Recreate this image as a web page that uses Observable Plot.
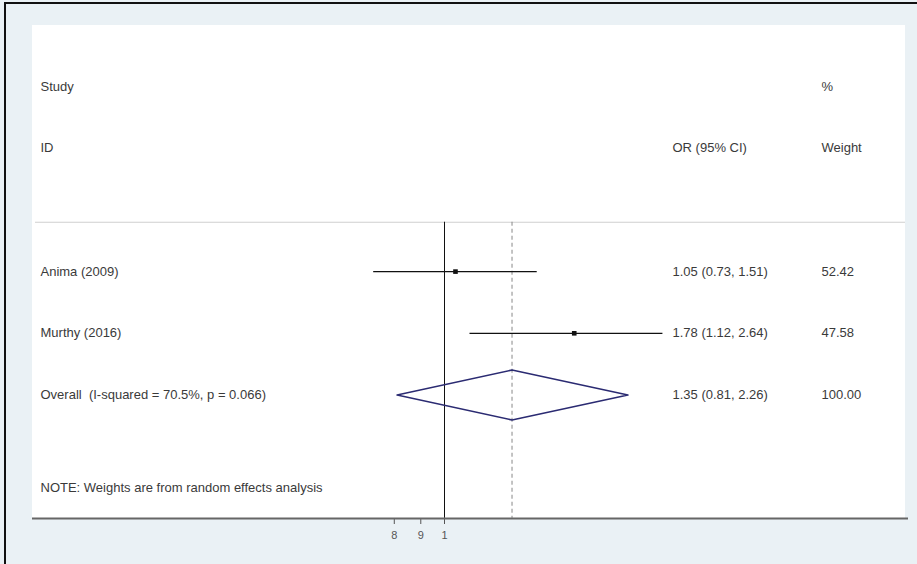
<!DOCTYPE html>
<html>
<head>
<meta charset="utf-8">
<script src="https://cdn.jsdelivr.net/npm/d3@7"></script>
<script src="https://cdn.jsdelivr.net/npm/@observablehq/plot@0.6"></script>
<style>
  html, body { margin: 0; padding: 0; background: #eaf1f5; }
  #wrap { position: relative; width: 917px; height: 564px; overflow: hidden; }
  #border { position: absolute; left: 4px; top: 2px; width: 930px; height: 600px; border-left: 2px solid #111; border-top: 2px solid #111; box-sizing: border-box; }
  #panel { position: absolute; left: 32px; top: 25px; width: 873px; height: 493px; background: #ffffff; }
  #chart { position: absolute; left: 0; top: 0; }
  svg { background: transparent !important; }
</style>
</head>
<body>
<div id="wrap">
  <div id="border"></div>
  <div id="panel"></div>
  <div id="chart"></div>
</div>
<script>
// ---- data ----
const studies = ["Anima (2009)", "Murthy (2016)"];
const estimates = [1.05, 1.78];
const lower = [0.73, 1.12];
const upper = [1.51, 2.64];
const weights = ["52.42", "47.58"];
const ciLabels = ["1.05 (0.73, 1.51)", "1.78 (1.12, 2.64)"];
const overallLabel = "Overall  (I-squared = 70.5%, p = 0.066)";
const overallEst = 1.35, overallLo = 0.81, overallHi = 2.26;
const overallCI = "1.35 (0.81, 2.26)";
const overallWeight = "100.00";
const headerLeft = ["Study", "ID"];
const headerMid = ["", "OR (95% CI)"];
const headerRight = ["%", "Weight"];
const note = "NOTE: Weights are from random effects analysis";
const tickValues = [0.8, 0.9, 1];
const tickLabels = ["8", "9", "1"];

// ---- build tables ----
const rows = studies.map((s, i) => ({row: 3 + i, name: s, est: estimates[i], lo: lower[i], hi: upper[i], ci: ciLabels[i], w: weights[i]}));
const overallRow = 3 + studies.length;
const textRows = [
  ...headerLeft.map((t, i) => ({row: i, left: t, mid: headerMid[i], right: headerRight[i]})),
  ...rows.map(r => ({row: r.row, left: r.name, mid: r.ci, right: r.w})),
  {row: overallRow, left: overallLabel, mid: overallCI, right: overallWeight}
];
const dh = 0.405;
const diamond = [
  {x: overallLo, y: overallRow},
  {x: overallEst, y: overallRow - dh},
  {x: overallHi, y: overallRow},
  {x: overallEst, y: overallRow + dh},
  {x: overallLo, y: overallRow}
];
const sepRow = 2.2, axisRow = 7, noteRow = 6.5;

const k = 225, x1px = 444;
const font = "Liberation Sans, Arial, sans-serif";

const chart = Plot.plot({
  width: 917,
  height: 564,
  marginLeft: 32,
  marginRight: 9,
  marginTop: 0,
  marginBottom: 46,
  style: {fontFamily: font, background: "transparent", color: "#555"},
  x: {
    type: "log",
    domain: [0.5, 3],
    range: [x1px + k * Math.log(0.5), x1px + k * Math.log(3)],
    ticks: tickValues,
    tickFormat: (d) => tickLabels[tickValues.indexOf(d)],
    tickSize: 6,
    tickPadding: 7,
    label: null
  },
  y: {domain: [0, 7], range: [86, 86 + 61.7 * 7], axis: null},
  marks: [
    Plot.ruleY([sepRow], {stroke: "#cfcfcf", strokeWidth: 1.2, insetLeft: 3, insetRight: 3}),
    Plot.ruleX([1], {y1: sepRow, y2: axisRow, stroke: "#111", strokeWidth: 1}),
    Plot.ruleX([overallEst], {y1: sepRow, y2: axisRow, stroke: "#888", strokeWidth: 1, strokeDasharray: "4,3"}),
    Plot.ruleY(rows, {y: "row", x1: "lo", x2: "hi", stroke: "#111", strokeWidth: 1.3}),
    Plot.dot(rows, {x: "est", y: "row", r: 2.6, fill: "#111", stroke: "none", symbol: "square"}),
    Plot.line(diamond, {x: "x", y: "y", stroke: "#2b2b72", strokeWidth: 1.5}),
    Plot.ruleY([axisRow], {stroke: "#666", strokeWidth: 2}),
    Plot.text(textRows, {y: "row", text: "left", frameAnchor: "left", textAnchor: "start", dx: 8, fontSize: 13, fill: "#3a3a3a"}),
    Plot.text(textRows, {y: "row", text: "mid", frameAnchor: "left", textAnchor: "start", dx: 640, fontSize: 13, fill: "#3a3a3a"}),
    Plot.text(textRows, {y: "row", text: "right", frameAnchor: "left", textAnchor: "start", dx: 789, fontSize: 13, fill: "#3a3a3a"}),
    Plot.text([note], {y: [noteRow], text: d => d, frameAnchor: "left", textAnchor: "start", dx: 8, fontSize: 13, fill: "#3a3a3a"})
  ]
});
chart.querySelectorAll("g[aria-label='x-axis tick label'] text, g[aria-label='x-axis'] text").forEach(t => { t.setAttribute("font-size", "11"); t.setAttribute("fill", "#555"); });
chart.querySelectorAll("g[aria-label='x-axis tick'] path, g[aria-label='x-axis'] path").forEach(p => p.setAttribute("stroke", "#555"));
document.getElementById("chart").appendChild(chart);
</script>
</body>
</html>
